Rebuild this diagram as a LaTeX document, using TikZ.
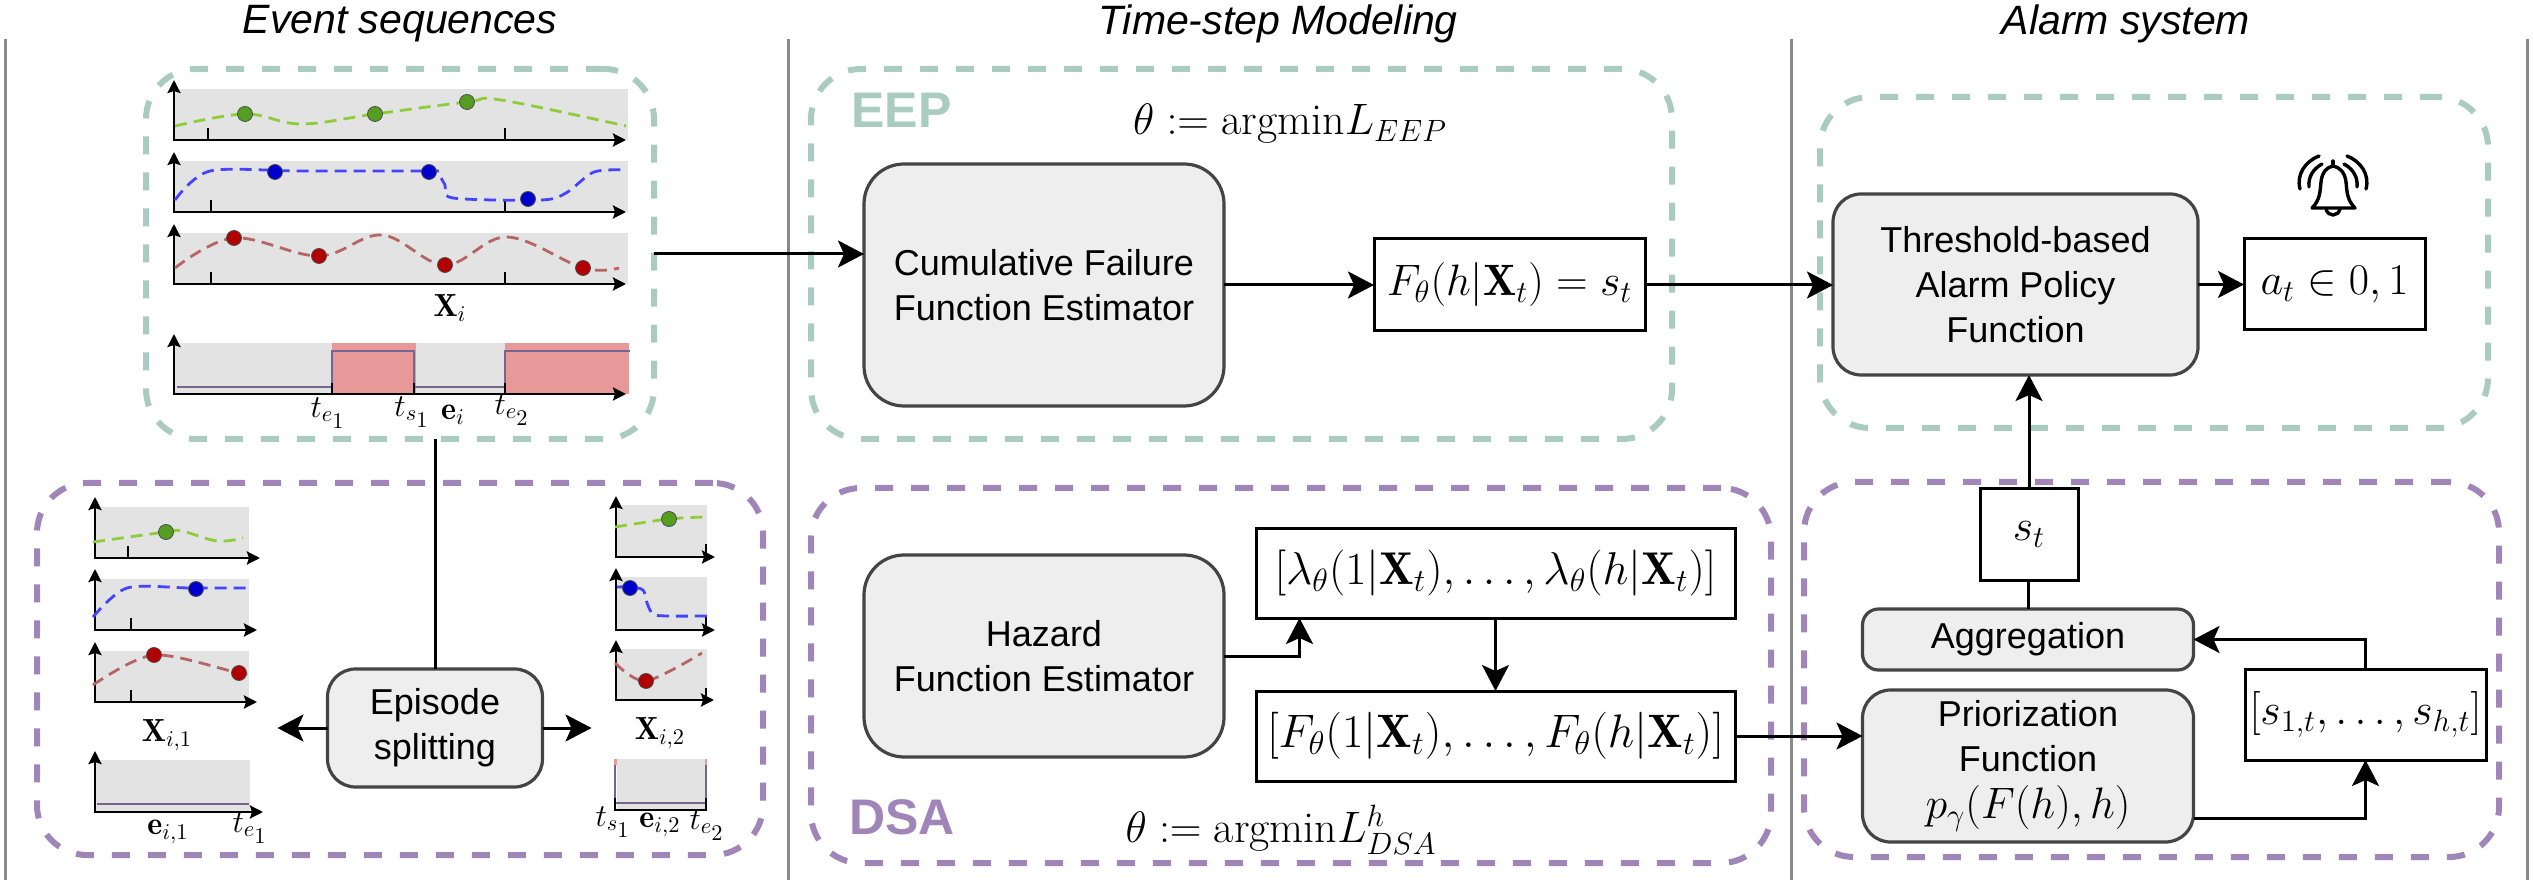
\RequirePackage{fix-cm}
\documentclass[tikz,border=0pt]{standalone}
\usepackage{amsmath}
\usepackage{amssymb}
\usepackage{xcolor}
\usepackage{fontspec}
\newfontfamily\diagfont{Liberation Sans}
\usetikzlibrary{positioning,arrows.meta}
\definecolor{tealdash}{HTML}{A9CBC0}
\definecolor{purpledash}{HTML}{A085B8}
\definecolor{boxedge}{HTML}{444444}
\definecolor{boxfill}{HTML}{EEEEEE}
\definecolor{plotgray}{HTML}{E3E3E3}
\definecolor{eventred}{HTML}{E79999}
\definecolor{eventline}{HTML}{77648F}
\definecolor{sepgray}{HTML}{8A8A8A}
\definecolor{greenline}{HTML}{8ECC3C}
\definecolor{blueline}{HTML}{4444FF}
\definecolor{redline}{HTML}{B56565}
\definecolor{greenfill}{HTML}{559E22}
\definecolor{bluefill}{HTML}{0000CC}
\definecolor{redfill}{HTML}{B20000}

\begin{document}
\begin{tikzpicture}[
    x=0.5pt, y=-0.5pt,
    node distance=75pt and 75pt,
    fnbox/.style={draw=boxedge, fill=boxfill, line width=1.6pt, rounded corners=14pt, align=center, outer sep=0pt, inner sep=0pt, font=\diagfont\fontsize{18}{22.5}\selectfont},
    mathbox/.style={draw, line width=1.5pt, align=center, outer sep=0pt, inner sep=0pt, font=\fontsize{22}{26}\selectfont},
    teallane/.style={draw=tealdash, line width=3pt, rounded corners=25pt, dash pattern=on 9pt off 9pt, outer sep=0pt, inner sep=0pt},
    purplelane/.style={draw=purpledash, line width=3pt, rounded corners=25pt, dash pattern=on 9pt off 9pt, outer sep=0pt, inner sep=0pt},
    head/.style={font=\diagfont\itshape\fontsize{20.5}{24}\selectfont},
    lanetag/.style={inner sep=0pt, font=\diagfont\bfseries\fontsize{25}{28}\selectfont},
    plotcap/.style={font=\fontsize{16}{18}\selectfont, inner sep=0pt},
    formula/.style={font=\fontsize{22}{26}\selectfont, inner sep=0pt},
    arr/.style={-{Stealth[length=13pt,width=13.5pt,inset=3pt]}, line width=1.5pt},
    lnk/.style={line width=1.5pt},
    ax/.style={{Stealth[length=6.5pt,width=6.5pt,inset=1pt]}-{Stealth[length=6.5pt,width=6.5pt,inset=1pt]}, line width=1.25pt},
    tickmark/.style={line width=1.25pt},
    greencurve/.style={greenline, line width=1.4pt, dash pattern=on 6pt off 3.5pt},
    bluecurve/.style={blueline, line width=1.4pt, dash pattern=on 6pt off 3.5pt},
    redcurve/.style={redline, line width=1.4pt, dash pattern=on 6pt off 3.5pt},
    greendot/.style={fill=greenfill, draw=black!70, line width=.4pt},
    bluedot/.style={fill=bluefill, draw=black!70, line width=.4pt},
    reddot/.style={fill=redfill, draw=black!70, line width=.4pt},
    eventpath/.style={eventline, line width=1.3pt}
]
\useasboundingbox (0,0) rectangle (2533,887);

% lane separators
\foreach \sx in {5,788,1791,2527}
    \draw[sepgray, line width=1.5pt] (\sx,39) -- (\sx,880);

\node[head] (headseq)   at (400,24)  {Event sequences};
\node[head] (headstep)  at (1278,24) {Time-step Modeling};
\node[head] (headalarm) at (2126,24) {Alarm system};

% dashed lanes
\node[teallane, minimum width=254pt, minimum height=185pt]     (seqlane)   at (400,254)    {};
\node[purplelane, minimum width=363pt, minimum height=186pt]   (splitlane) at (400,669)    {};
\node[teallane, minimum width=430.5pt, minimum height=185pt]   (eeplane)   at (1241.5,254) {};
\node[purplelane, minimum width=480pt, minimum height=187.5pt] (dsalane)   at (1291,675.5) {};
\node[teallane, minimum width=334pt, minimum height=165.5pt]   (alarmlane) at (2154,262.5) {};
\node[purplelane, minimum width=347.5pt, minimum height=187.5pt] (policylane) at (2151.5,669.5) {};

\node[lanetag, text=tealdash, anchor=west]   (eeptag) at (851,110) {EEP};
\node[lanetag, text=purpledash, anchor=west] (dsatag) at (849,817) {DSA};
\node[formula] (eeploss) at (1290,124) {$\theta := \mathrm{argmin} L_{EEP}$};
\node[formula] (dsaloss) at (1281,830) {$\theta := \mathrm{argmin} L^{h}_{DSA}$};

% gray panels with their axes: left, right, top, bottom, tip of y axis, tip of x axis
\foreach \xa/\xb/\ya/\yb/\yt/\xt in {
    175/628/89/140/80/626, 175/628/161/212/152/626, 175/628/233/284/224/626,
    96/249/507/558/497/260, 96/249/579/630/569/257, 96/249/651/702/642/257,
    617/707/505/557/496/715, 617/707/577/630/568/715, 617/707/649/700/640/714} {
    \fill[plotgray] (\xa,\ya) rectangle (\xb,\yb);
    \draw[ax] (\xa-1,\yt) -- (\xa-1,\yb) -- (\xt,\yb);
}
\foreach \tx/\ty/\tb in {208/128/140, 505/128/140, 211/200/212, 505/200/212, 211/272/284, 505/272/284,
    128/546/557, 131/618/630, 131/690/702, 706/544/557, 706/616/630, 706/688/700}
    \draw[tickmark] (\tx,\ty) -- (\tx,\tb);

% full sequence
\draw[greencurve] plot[smooth, tension=.6] coordinates {(175,126) (245,114) (301,124) (375,114) (467,102) (501,100) (626,126)};
\draw[bluecurve] plot[smooth, tension=.5] coordinates {(175,200) (210,171) (300,171) (428,171) (437,172) (445,185) (453,198) (541,200) (566,193) (594,172) (626,170)};
\draw[redcurve] plot[smooth, tension=.6] coordinates {(175,268) (234,238) (319,256) (382,235) (445,265) (507,237) (583,268) (619,268)};
\foreach \dx/\dy in {245/114, 375/114, 467/102} \filldraw[greendot] (\dx,\dy) circle (7.5);
\foreach \dx/\dy in {275/172, 429/172, 528/199} \filldraw[bluedot] (\dx,\dy) circle (7.5);
\foreach \dx/\dy in {234/238, 319/256, 445/265, 583/268} \filldraw[reddot] (\dx,\dy) circle (7.5);
\node[plotcap] (xfull) at (450,308) {$\mathbf{X}_i$};

% first episode
\draw[greencurve] plot[smooth, tension=.6] coordinates {(93,542) (166,532) (182,531) (217,541) (243,538)};
\draw[bluecurve] plot[smooth, tension=.5] coordinates {(93,617) (127,588) (190,588) (249,588)};
\draw[redcurve] plot[smooth, tension=.5] coordinates {(93,685) (154,655) (239,673) (249,672)};
\filldraw[greendot] (166,532) circle (7.5);
\filldraw[bluedot] (196,589) circle (7.5);
\foreach \dx/\dy in {154/655, 239/673} \filldraw[reddot] (\dx,\dy) circle (7.5);
\node[plotcap] (xfirst) at (167,735) {$\mathbf{X}_{i,1}$};

% second episode
\draw[greencurve] plot[smooth, tension=.6] coordinates {(615,527) (669,519) (707,517)};
\draw[bluecurve] plot[smooth, tension=.5] coordinates {(617,587) (630,587) (643,590) (647,603) (653,614) (667,616) (707,616)};
\draw[redcurve] plot[smooth, tension=.5] coordinates {(615,663) (646,681) (702,653)};
\filldraw[greendot] (669,519) circle (7.5);
\filldraw[bluedot] (630,588) circle (7.5);
\filldraw[reddot] (646,681) circle (7.5);
\node[plotcap] (xsecond) at (660,733) {$\mathbf{X}_{i,2}$};

% event panels
\fill[plotgray] (175,343) rectangle (628,394);
\fill[eventred] (332,343) rectangle (416,394);
\fill[eventred] (505,343) rectangle (629,394);
\draw[eventpath] (177,387) -- (332,387) -- (332,351) -- (414,351) -- (414,387) -- (505,387) -- (505,351) -- (630,351);
\draw[ax] (174,334) -- (174,394) -- (626,394);
\foreach \tx in {332,414,505} \draw[tickmark] (\tx,383) -- (\tx,394);
\node[plotcap] (tefirst)  at (328,413) {$t_{e_{\scriptstyle 1}}$};
\node[plotcap] (tsfirst)  at (412,412) {$t_{s_{\scriptstyle 1}}$};
\node[plotcap] (efull)    at (453,415) {$\mathbf{e}_i$};
\node[plotcap] (tesecond) at (512,410) {$t_{e_{\scriptstyle 2}}$};

\fill[plotgray] (96,760) rectangle (250,812);
\draw[eventpath] (97,804) -- (249,804);
\draw[ax] (95,751) -- (95,812) -- (263,812);
\node[plotcap] (efirst) at (168,832) {$\mathbf{e}_{i,1}$};
\node[plotcap] (tefirstb) at (250,828) {$t_{e_{\scriptstyle 1}}$};

\fill[plotgray] (617,759) rectangle (707,810);
\fill[eventred] (614,759) rectangle (617,765);
\fill[eventred] (705,759) rectangle (707,765);
\draw[eventpath] (615,765) -- (615,803) -- (706,803) -- (706,765);
\draw[tickmark] (615,798) -- (615,810) -- (706,810) -- (706,798);
\node[plotcap] (tsfirstb) at (613,822) {$t_{s_{\scriptstyle 1}}$};
\node[plotcap] (esecond)  at (660,825) {$\mathbf{e}_{i,2}$};
\node[plotcap] (tesecondb) at (707,825) {$t_{e_{\scriptstyle 2}}$};

% blocks
\node[fnbox, minimum width=107.5pt, minimum height=59pt] (split) at (435,728) {Episode\\splitting};
\node[fnbox, rounded corners=20pt, minimum width=180pt, minimum height=121pt] (cumul) at (1044,285) {Cumulative Failure\\Function Estimator};
\node[mathbox, minimum width=135.5pt, minimum height=46pt, right=75pt of cumul] (fbox) {$F_{\theta}(h|\mathbf{X}_t) = s_t$};
\node[fnbox, rounded corners=20pt, minimum width=180pt, minimum height=101pt] (hazard) at (1044,656) {Hazard\\Function Estimator};
\node[mathbox, minimum width=239.5pt, minimum height=45pt, font=\fontsize{23}{27}\selectfont] (lamlist) at (1495.5,573) {$[\lambda_{\theta}(1|\mathbf{X}_t),\ldots,\lambda_{\theta}(h|\mathbf{X}_t)]$};
\node[mathbox, minimum width=239.5pt, minimum height=45pt, font=\fontsize{23.5}{27}\selectfont, below=36.5pt of lamlist] (flist) {$[F_{\theta}(1|\mathbf{X}_t),\ldots,F_{\theta}(h|\mathbf{X}_t)]$};
\node[fnbox, minimum width=182.5pt, minimum height=90.5pt] (thresh) at (2015.5,284.5) {Threshold-based\\Alarm Policy\\Function};
\node[mathbox, minimum width=90.5pt, minimum height=45.5pt] (atbox) at (2334.5,284.5) {$a_t \in 0,1$};
\node[mathbox, minimum width=49pt, minimum height=45.5pt] (stbox) at (2029,534.5) {$s_t$};
\node[fnbox, rounded corners=8pt, minimum width=165.5pt, minimum height=30.5pt] (aggr) at (2028,639.5) {Aggregation};
\node[fnbox, minimum width=165.5pt, minimum height=76pt] (prior) at (2028,766) {Priorization\\Function\\[1pt]\fontsize{22}{26}\selectfont$p_{\gamma}(F(h),h)$};
\node[mathbox, minimum width=120.5pt, minimum height=45.5pt] (slist) at (2365.5,714.5) {$[s_{1,t},\ldots,s_{h,t}]$};

% connectors
\draw[arr] (seqlane.east) -- (seqlane.east -| cumul.west);
\draw[lnk] (split.north |- seqlane.south) -- (split.north);
\draw[arr] (split.west) -- ++(-50,0);
\draw[arr] (split.east) -- ++(49,0);
\draw[arr] (cumul.east) -- (fbox.west);
\draw[arr] (fbox.east) -- (fbox.east -| thresh.west);
\draw[arr] (thresh.east) -- (atbox.west);
\draw[arr] (hazard.east) -| ([xshift=-98pt]lamlist.south);
\draw[arr, line width=1.2pt] (lamlist) -- (flist);
\draw[arr] (flist.east) -- (flist.east -| prior.west);
\draw[lnk] (aggr.north) -- (aggr.north |- stbox.south);
\draw[arr] (stbox.north) -- (stbox.north |- thresh.south);
\draw[arr] (slist.north) |- (aggr.east);
\draw[arr] ([yshift=-26pt]prior.east) -| (slist.south);

% bell
\begin{scope}[line width=1.7pt, line cap=round, line join=round]
\draw (2312,208) -- (2355,208) .. controls (2347,200) and (2347,192) .. (2346,182) .. controls (2345,172) and (2339,167) .. (2333,166) .. controls (2327,167) and (2322,172) .. (2321,182) .. controls (2320,192) and (2320,200) .. (2312,208);
\draw (2333,166) -- (2333,161);
\draw (2326,209) .. controls (2328,217) and (2338,217) .. (2340,209);
\draw (2309,187) .. controls (2308,177) and (2313,169) .. (2322,164);
\draw (2300,189) .. controls (2296,174) and (2306,161) .. (2319,156);
\draw (2357,187) .. controls (2358,177) and (2353,169) .. (2344,164);
\draw (2366,189) .. controls (2370,174) and (2360,161) .. (2347,156);
\end{scope}
\end{tikzpicture}
\end{document}
